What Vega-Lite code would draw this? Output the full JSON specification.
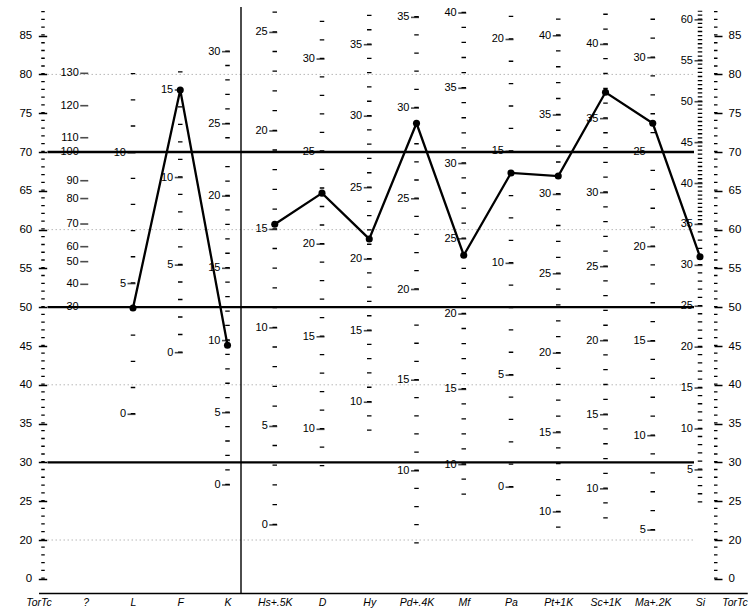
{
"$schema":"https://vega.github.io/schema/vega-lite/v6.json",
"width":708.75,"height":593,
"autosize":"none",
"padding":{"left":38.5,"top":0,"right":3.75,"bottom":20},
"background":"white",
"datasets":{
"prof":[
{"c":"L","t":49.9,"g":"v","n":1},{"c":"F","t":78.0,"g":"v","n":2},{"c":"K","t":45.1,"g":"v","n":3},
{"c":"Hs+.5K","t":60.7,"g":"c","n":4},{"c":"D","t":64.7,"g":"c","n":5},{"c":"Hy","t":58.8,"g":"c","n":6},
{"c":"Pd+.4K","t":73.7,"g":"c","n":7},{"c":"Mf","t":56.7,"g":"c","n":8},{"c":"Pa","t":67.3,"g":"c","n":9},
{"c":"Pt+1K","t":66.9,"g":"c","n":10},{"c":"Sc+1K","t":77.7,"g":"c","n":11},{"c":"Ma+.2K","t":73.7,"g":"c","n":12},
{"c":"Si","t":56.5,"g":"c","n":13}],
"cols":[
{"c":"L","d":"L","t":36.2,"t2":80.2},
{"c":"F","d":"F","t":44.14,"t2":80.45},
{"c":"K","d":"K","t":27.09,"t2":83.1},
{"c":"Hs+.5K","d":"Hs","t":21.94,"t2":88.15},
{"c":"D","d":"D","t":29.49,"t2":86.95},
{"c":"Hy","d":"Hy","t":34.07,"t2":87.7},
{"c":"Pd+.4K","d":"Pd","t":19.555,"t2":87.55},
{"c":"Mf","d":"Mf","t":25.83,"t2":88.1},
{"c":"Pa","d":"Pa","t":26.8,"t2":87.58},
{"c":"Pt+1K","d":"Pt","t":21.57,"t2":87.2},
{"c":"Sc+1K","d":"Sc","t":22.78,"t2":87.85},
{"c":"Ma+.2K","d":"Ma","t":21.265,"t2":87.2},
{"c":"Si","d":"Si1","t":24.82,"t2":60.4},
{"c":"Si","d":"Si2","t":60.67,"t2":88.2}],
"labs":[
{"c":"?","t":80.14,"l":"130"},{"c":"?","t":75.97,"l":"120"},{"c":"?","t":71.84,"l":"110"},{"c":"?","t":70.0,"l":"100"},{"c":"?","t":66.3,"l":"90"},{"c":"?","t":64.0,"l":"80"},{"c":"?","t":60.72,"l":"70"},{"c":"?","t":57.8,"l":"60"},{"c":"?","t":55.87,"l":"50"},{"c":"?","t":52.95,"l":"40"},{"c":"?","t":50.0,"l":"30"},
{"c":"L","t":36.2,"l":"0"},{"c":"L","t":53.05,"l":"5"},{"c":"L","t":69.9,"l":"10"},
{"c":"F","t":44.14,"l":"0"},{"c":"F","t":55.42,"l":"5"},{"c":"F","t":66.71,"l":"10"},{"c":"F","t":77.99,"l":"15"},
{"c":"K","t":27.09,"l":"0"},{"c":"K","t":36.4,"l":"5"},{"c":"K","t":45.7,"l":"10"},{"c":"K","t":55.01,"l":"15"},{"c":"K","t":64.31,"l":"20"},{"c":"K","t":73.62,"l":"25"},{"c":"K","t":82.93,"l":"30"},
{"c":"Hs+.5K","t":21.94,"l":"0"},{"c":"Hs+.5K","t":34.63,"l":"5"},{"c":"Hs+.5K","t":47.33,"l":"10"},{"c":"Hs+.5K","t":60.02,"l":"15"},{"c":"Hs+.5K","t":72.71,"l":"20"},{"c":"Hs+.5K","t":85.41,"l":"25"},
{"c":"D","t":34.26,"l":"10"},{"c":"D","t":46.19,"l":"15"},{"c":"D","t":58.12,"l":"20"},{"c":"D","t":70.05,"l":"25"},{"c":"D","t":81.98,"l":"30"},
{"c":"Hy","t":37.75,"l":"10"},{"c":"Hy","t":46.97,"l":"15"},{"c":"Hy","t":56.18,"l":"20"},{"c":"Hy","t":65.4,"l":"25"},{"c":"Hy","t":74.61,"l":"30"},{"c":"Hy","t":83.83,"l":"35"},
{"c":"Pd+.4K","t":28.91,"l":"10"},{"c":"Pd+.4K","t":40.59,"l":"15"},{"c":"Pd+.4K","t":52.28,"l":"20"},{"c":"Pd+.4K","t":63.97,"l":"25"},{"c":"Pd+.4K","t":75.66,"l":"30"},{"c":"Pd+.4K","t":87.35,"l":"35"},
{"c":"Mf","t":29.71,"l":"10"},{"c":"Mf","t":39.41,"l":"15"},{"c":"Mf","t":49.11,"l":"20"},{"c":"Mf","t":58.81,"l":"25"},{"c":"Mf","t":68.51,"l":"30"},{"c":"Mf","t":78.21,"l":"35"},{"c":"Mf","t":87.91,"l":"40"},
{"c":"Pa","t":26.8,"l":"0"},{"c":"Pa","t":41.23,"l":"5"},{"c":"Pa","t":55.65,"l":"10"},{"c":"Pa","t":70.08,"l":"15"},{"c":"Pa","t":84.5,"l":"20"},
{"c":"Pt+1K","t":23.61,"l":"10"},{"c":"Pt+1K","t":33.84,"l":"15"},{"c":"Pt+1K","t":44.07,"l":"20"},{"c":"Pt+1K","t":54.3,"l":"25"},{"c":"Pt+1K","t":64.53,"l":"30"},{"c":"Pt+1K","t":74.76,"l":"35"},{"c":"Pt+1K","t":84.98,"l":"40"},
{"c":"Sc+1K","t":26.59,"l":"10"},{"c":"Sc+1K","t":36.14,"l":"15"},{"c":"Sc+1K","t":45.68,"l":"20"},{"c":"Sc+1K","t":55.22,"l":"25"},{"c":"Sc+1K","t":64.76,"l":"30"},{"c":"Sc+1K","t":74.3,"l":"35"},{"c":"Sc+1K","t":83.86,"l":"40"},
{"c":"Ma+.2K","t":21.27,"l":"5"},{"c":"Ma+.2K","t":33.44,"l":"10"},{"c":"Ma+.2K","t":45.62,"l":"15"},{"c":"Ma+.2K","t":57.8,"l":"20"},{"c":"Ma+.2K","t":69.98,"l":"25"},{"c":"Ma+.2K","t":82.15,"l":"30"},
{"c":"Si","t":29.03,"l":"5"},{"c":"Si","t":34.3,"l":"10"},{"c":"Si","t":39.58,"l":"15"},{"c":"Si","t":44.85,"l":"20"},{"c":"Si","t":50.12,"l":"25"},{"c":"Si","t":55.39,"l":"30"},{"c":"Si","t":60.67,"l":"35"},{"c":"Si","t":65.94,"l":"40"},{"c":"Si","t":71.21,"l":"45"},{"c":"Si","t":76.48,"l":"50"},{"c":"Si","t":81.76,"l":"55"},{"c":"Si","t":87.03,"l":"60"}],
"lines":[{"c":"TorTc","c2":"Si","t":70},{"c":"TorTc","c2":"Si","t":50},{"c":"TorTc","c2":"Si","t":30}],
"guides":[{"c":"TorTc","c2":"Si","t":80},{"c":"TorTc","c2":"Si","t":60},{"c":"TorTc","c2":"Si","t":40},{"c":"TorTc","c2":"Si","t":20}],
"vline":[{"c":"K","t":13.17,"t2":88.7}],
"taxL":[{"c":"TorTc","t":15,"t2":88.2}],
"taxR":[{"c":"TorTc2","t":15,"t2":88.2}]
},
"encoding":{
"x":{"field":"c","type":"nominal","title":null,
"scale":{"type":"point","padding":0,"domain":["TorTc","?","L","F","K","Hs+.5K","D","Hy","Pd+.4K","Mf","Pa","Pt+1K","Sc+1K","Ma+.2K","Si","TorTc2"]},
"axis":{"title":null,"ticks":false,"domainWidth":1.6,"domainColor":"black","labelColor":"black","labelFont":"Liberation Sans","labelFontStyle":"italic","labelFontSize":10.5,"labelPadding":4,"labelDx":-12,"labelAngle":0,"labelOverlap":false,
"labelAlign":{"condition":{"test":"datum.value == 'TorTc2'","value":"right"},"value":"center"},
"labelExpr":"datum.value == 'TorTc2' ? 'TorTc' : datum.label"}},
"y":{"field":"t","type":"quantitative","scale":{"domain":[13.17,89.59],"nice":false,"zero":false},"axis":null}
},
"layer":[
{"data":{"name":"guides"},"mark":{"type":"rule","color":"#b0b0b0","strokeWidth":0.9,"strokeDash":[1.5,2.5],"xOffset":9,"x2Offset":-6},"encoding":{"x2":{"field":"c2"}}},
{"data":{"name":"lines"},"mark":{"type":"rule","color":"black","strokeWidth":2.3,"xOffset":9,"x2Offset":-6},"encoding":{"x2":{"field":"c2"}}},
{"data":{"name":"vline"},"mark":{"type":"rule","color":"black","strokeWidth":1.4,"xOffset":13.5},"encoding":{"y2":{"field":"t2"}}},
{"data":{"name":"taxL"},"mark":{"type":"rule","color":"black","strokeWidth":3.5,"strokeDash":[1.3,6.4597],"xOffset":4.5},
"encoding":{"y":{"field":"t","type":"quantitative","scale":{"domain":[13.17,89.59],"nice":false,"zero":false},
"axis":{"orient":"left","offset":-8.2,"title":null,"grid":false,"domain":false,"values":[15,20,25,30,35,40,45,50,55,60,65,70,75,80,85],"labelExpr":"datum.value == 15 ? '0' : datum.label","tickSize":8.4,"tickWidth":1.5,"tickColor":"black","labelPadding":6.6,"labelFontSize":11.5,"labelColor":"black","labelFont":"Liberation Sans"}},
"y2":{"field":"t2"}}},
{"data":{"name":"taxR"},"mark":{"type":"rule","color":"black","strokeWidth":3.5,"strokeDash":[1.3,6.4597],"xOffset":-31.5},
"encoding":{"y":{"field":"t","type":"quantitative","scale":{"domain":[13.17,89.59],"nice":false,"zero":false},
"axis":{"orient":"right","offset":-33.25,"title":null,"grid":false,"domain":false,"values":[15,20,25,30,35,40,45,50,55,60,65,70,75,80,85],"labelExpr":"datum.value == 15 ? '0' : datum.label","tickSize":8,"tickWidth":1.5,"tickColor":"black","labelPadding":6,"labelFontSize":11.5,"labelColor":"black","labelFont":"Liberation Sans"}},
"y2":{"field":"t2"}}},
{"data":{"name":"cols"},"mark":{"type":"rule","color":"black","strokeWidth":4.5},
"encoding":{"y2":{"field":"t2"},
"strokeDash":{"field":"d","type":"nominal","legend":null,"scale":{"domain":["L","F","K","Hs","D","Hy","Pd","Mf","Pa","Pt","Sc","Ma","Si1","Si2"],
"range":[[1.3,24.85],[1.3,16.21],[1.3,13.142],[1.3,18.4],[1.3,17.215],[1.3,13.0],[1.3,16.839],[1.3,13.755],[1.3,21.087],[1.3,14.576],[1.3,13.509],[1.3,17.6],[1.3,6.8818],[1.3,2.7909]]}}}},
{"data":{"name":"labs"},"mark":{"type":"tick","orient":"horizontal","size":8,"thickness":1.6,"color":"black","xOffset":-1.5}},
{"data":{"name":"labs"},"mark":{"type":"text","align":"right","baseline":"middle","dx":-7,"fontSize":11,"color":"black","font":"Liberation Sans"},"encoding":{"text":{"field":"l"}}},
{"data":{"name":"prof"},"mark":{"type":"line","color":"black","strokeWidth":2.3},"encoding":{"detail":{"field":"g"},"order":{"field":"n"}}},
{"data":{"name":"prof"},"mark":{"type":"circle","color":"black","size":50,"opacity":1}}
],
"resolve":{"axis":{"y":"independent"}},
"config":{"view":{"stroke":null},"font":"Liberation Sans"}
}
